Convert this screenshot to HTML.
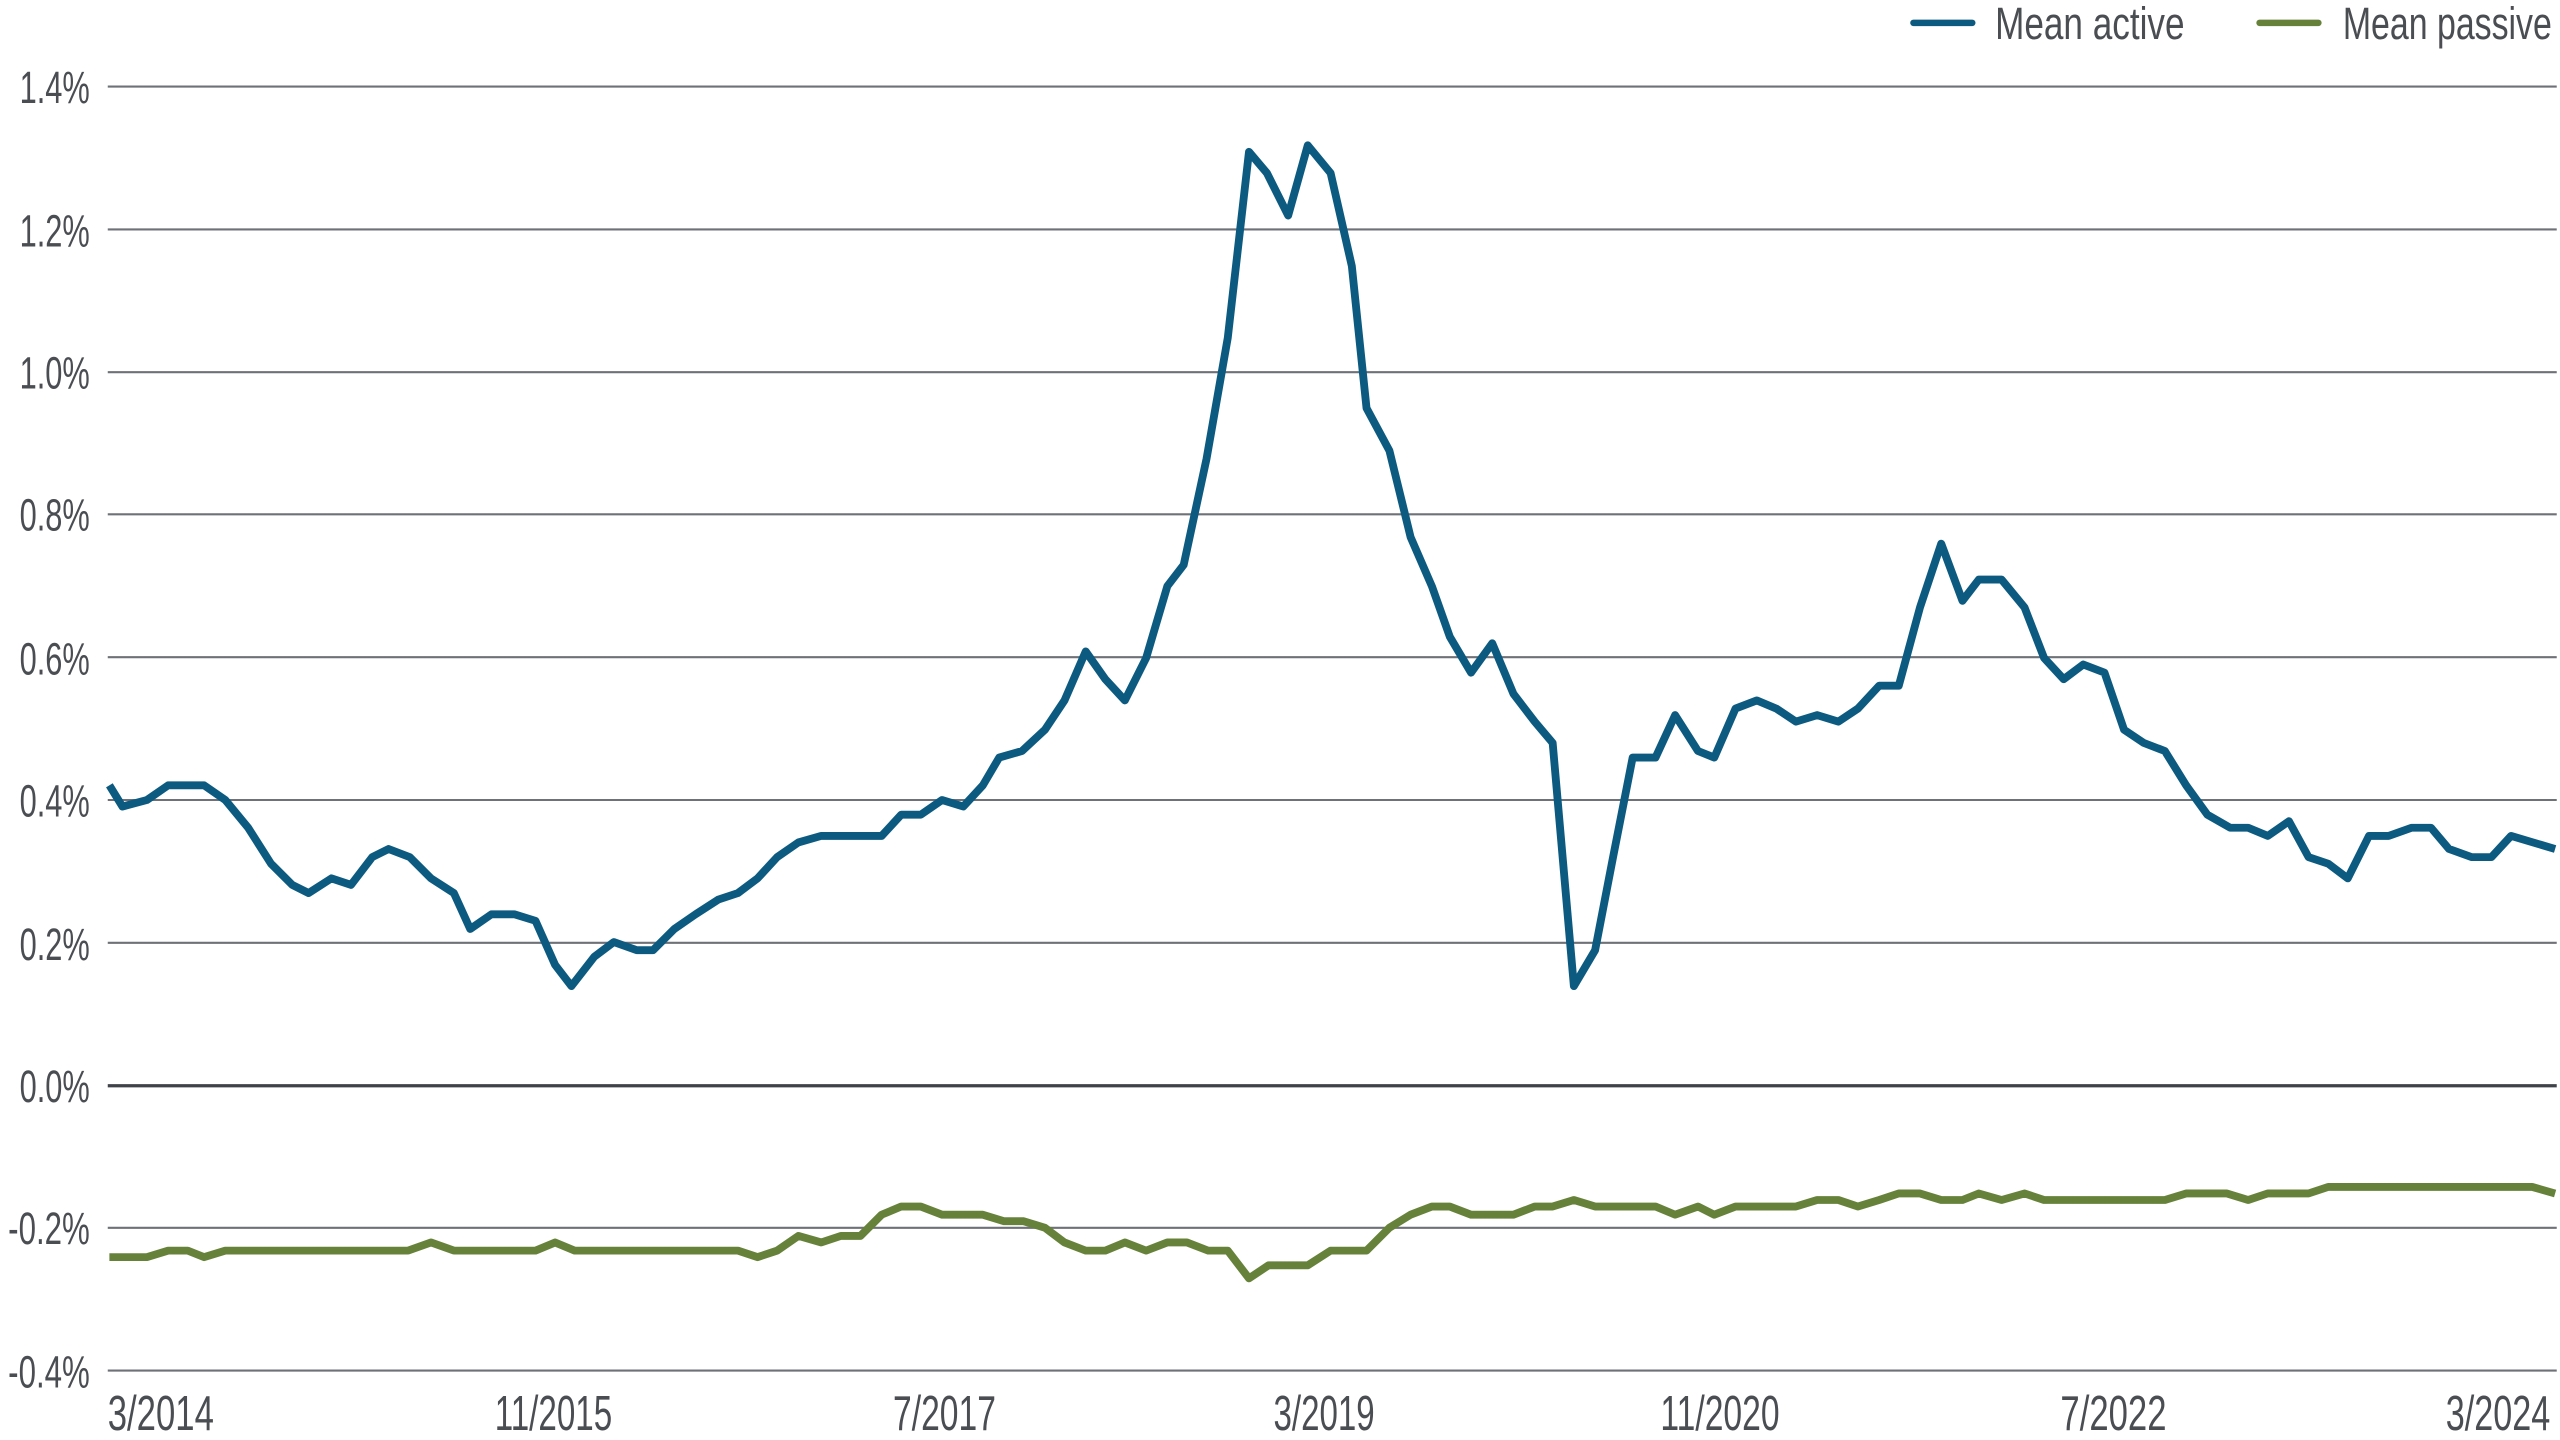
<!DOCTYPE html>
<html><head><meta charset="utf-8"><style>
html,body{margin:0;padding:0;background:#fff;}
svg{display:block;}
text{font-family:"Liberation Sans Narrow","Liberation Sans",sans-serif;fill:#4a4d52;}
</style></head><body>
<svg width="2560" height="1440" viewBox="0 0 1568 882" preserveAspectRatio="none">
<g stroke="#6e7177" stroke-width="1.3">
<line x1="66" x2="1566" y1="53" y2="53"/>
<line x1="66" x2="1566" y1="140.5" y2="140.5"/>
<line x1="66" x2="1566" y1="228" y2="228"/>
<line x1="66" x2="1566" y1="315" y2="315"/>
<line x1="66" x2="1566" y1="402.5" y2="402.5"/>
<line x1="66" x2="1566" y1="490" y2="490"/>
<line x1="66" x2="1566" y1="577.5" y2="577.5"/>
<line x1="66" x2="1566" y1="752" y2="752"/>
<line x1="66" x2="1566" y1="839.5" y2="839.5"/>
</g>
<line x1="66" x2="1566" y1="665" y2="665" stroke="#3f4248" stroke-width="2"/>
<g font-size="28" text-anchor="end">
<text x="55" y="63" textLength="43" lengthAdjust="spacingAndGlyphs">1.4%</text>
<text x="55" y="151" textLength="43" lengthAdjust="spacingAndGlyphs">1.2%</text>
<text x="55" y="238" textLength="43" lengthAdjust="spacingAndGlyphs">1.0%</text>
<text x="55" y="325" textLength="43" lengthAdjust="spacingAndGlyphs">0.8%</text>
<text x="55" y="413" textLength="43" lengthAdjust="spacingAndGlyphs">0.6%</text>
<text x="55" y="500" textLength="43" lengthAdjust="spacingAndGlyphs">0.4%</text>
<text x="55" y="588" textLength="43" lengthAdjust="spacingAndGlyphs">0.2%</text>
<text x="55" y="675" textLength="43" lengthAdjust="spacingAndGlyphs">0.0%</text>
<text x="55" y="762" textLength="50" lengthAdjust="spacingAndGlyphs">-0.2%</text>
<text x="55" y="850" textLength="50" lengthAdjust="spacingAndGlyphs">-0.4%</text>
</g>
<g font-size="30">
<text x="66" y="876" textLength="65" lengthAdjust="spacingAndGlyphs">3/2014</text>
<text x="303" y="876" textLength="72" lengthAdjust="spacingAndGlyphs">11/2015</text>
<text x="547" y="876" textLength="63" lengthAdjust="spacingAndGlyphs">7/2017</text>
<text x="780" y="876" textLength="62" lengthAdjust="spacingAndGlyphs">3/2019</text>
<text x="1017" y="876" textLength="73" lengthAdjust="spacingAndGlyphs">11/2020</text>
<text x="1262" y="876" textLength="65" lengthAdjust="spacingAndGlyphs">7/2022</text>
<text x="1498" y="876" textLength="64" lengthAdjust="spacingAndGlyphs">3/2024</text>
</g>
<g stroke-linecap="round" stroke-width="4">
<line x1="1172" x2="1208" y1="14" y2="14" stroke="#0d5a80"/>
<line x1="1384" x2="1420" y1="14" y2="14" stroke="#66823a"/>
</g>
<g font-size="28">
<text x="1222" y="24" textLength="116" lengthAdjust="spacingAndGlyphs">Mean active</text>
<text x="1435" y="24" textLength="128" lengthAdjust="spacingAndGlyphs">Mean passive</text>
</g>
<polyline fill="none" stroke="#0d5a80" stroke-width="4.8" stroke-linejoin="round" points="
67,481 75,494 90,490 103,481 125,481 138,490 152,507 166,529 179,542 189,547 203,538 215,542 228,525 238,520 251,525 264,538 278,547 288,569 301,560 315,560 328,564 340,591 350,604 364,586 376,577 390,582 400,582 413,569 426,560 440,551 452,547 464,538 476,525 489,516 503,512 540,512 552,499 564,499 577,490 590,494 602,481 612,464 626,460 640,447 652,429 665,399 677,416 689,429 702,403 715,359 725,346 739,281 752,207 765,93 776,106 789,132 801,89 815,106 828,163 837,250 851,276 864,329 877,359 888,390 901,412 914,394 927,425 940,442 951,455 964,604 977,582 988,525 1000,464 1014,464 1026,438 1040,460 1050,464 1063,434 1076,429 1088,434 1100,442 1113,438 1126,442 1138,434 1151,420 1163,420 1176,372 1189,333 1202,368 1212,355 1226,355 1240,372 1252,403 1264,416 1276,407 1289,412 1301,447 1313,455 1326,460 1339,481 1352,499 1366,507 1377,507 1389,512 1402,503 1414,525 1426,529 1438,538 1451,512 1463,512 1477,507 1489,507 1500,520 1514,525 1526,525 1538,512 1565,520"/>
<polyline fill="none" stroke="#66823a" stroke-width="4.8" stroke-linejoin="round" points="
67,770 90,770 103,766 115,766 125,770 138,766 250,766 264,761 278,766 328,766 340,761 352,766 452,766 464,770 476,766 489,757 503,761 515,757 527,757 540,744 552,739 564,739 577,744 602,744 615,748 627,748 640,752 652,761 665,766 677,766 689,761 702,766 715,761 727,761 740,766 752,766 765,783 777,775 801,775 815,766 837,766 851,752 864,744 877,739 888,739 901,744 927,744 940,739 951,739 964,735 977,739 1014,739 1026,744 1040,739 1050,744 1063,739 1100,739 1113,735 1126,735 1138,739 1151,735 1163,731 1176,731 1189,735 1202,735 1212,731 1226,735 1240,731 1252,735 1326,735 1339,731 1364,731 1377,735 1389,731 1414,731 1426,727 1538,727 1551,727 1565,731"/>
</svg>
</body></html>
